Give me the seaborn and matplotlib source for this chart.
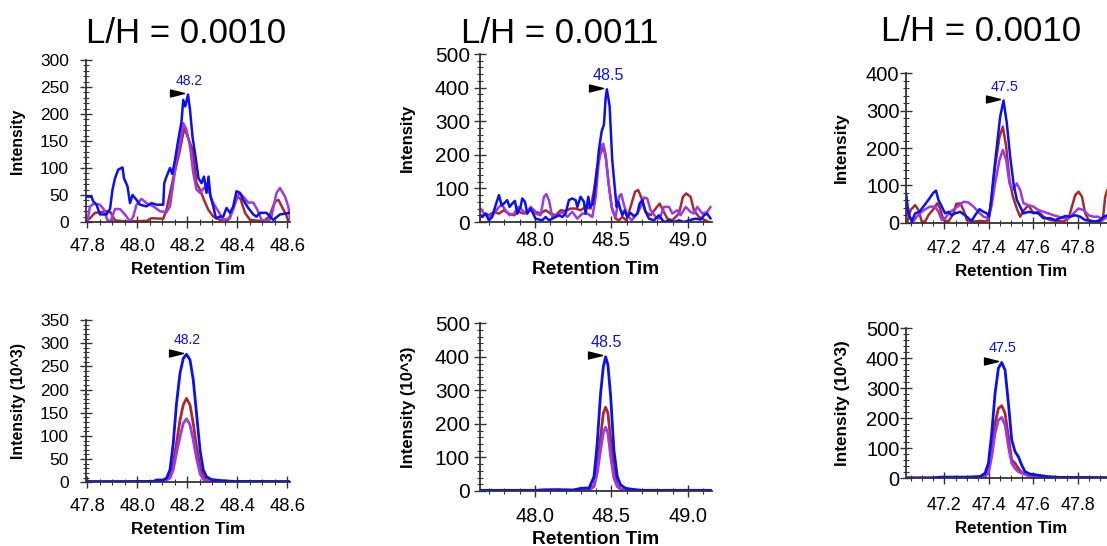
import matplotlib
matplotlib.use("Agg")
import matplotlib.pyplot as plt
import pandas as pd
import seaborn as sns
from matplotlib.path import Path
from matplotlib.transforms import offset_copy
from matplotlib.ticker import MultipleLocator, FormatStrFormatter

sns.set_style("ticks")
plt.rcParams["font.family"] = ["Liberation Sans", "DejaVu Sans"]
plt.rcParams["text.color"] = "black"
plt.rcParams["axes.labelcolor"] = "black"

# ---------------------------------------------------------------------------
# Extracted ion chromatograms: (retention time [min], intensity)
# top row: raw intensity, bottom row: intensity in 10^3
# ---------------------------------------------------------------------------
ratio_titles = ["L/H = 0.0010", "L/H = 0.0011", "L/H = 0.0010"]
trace_order = ["red", "purple", "blue"]

# column 1, top
p1_red = [(47.795, 1), (47.811, 7), (47.831, 17), (47.851, 18), (47.877, 20), (47.893, 18),
          (47.911, 3), (47.957, 1), (48.037, 2), (48.057, 7), (48.104, 6), (48.117, 23),
          (48.144, 81), (48.171, 134), (48.188, 174), (48.204, 155), (48.221, 134),
          (48.237, 72), (48.251, 60), (48.267, 41), (48.284, 23), (48.304, 10), (48.331, 4),
          (48.364, 4), (48.384, 24), (48.400, 47), (48.413, 43), (48.431, 17), (48.451, 4),
          (48.504, 1), (48.528, 10), (48.551, 38), (48.565, 41), (48.581, 26), (48.595, 14),
          (48.605, 1)]
p1_purple = [(47.800, 1), (47.811, 29), (47.827, 34), (47.851, 32), (47.867, 23), (47.880, 4),
             (47.893, 1), (47.911, 24), (47.931, 24), (47.951, 14), (47.971, 1), (47.984, 10),
             (47.997, 32), (48.017, 43), (48.037, 35), (48.064, 29), (48.091, 20), (48.117, 18),
             (48.131, 29), (48.144, 72), (48.157, 115), (48.171, 146), (48.184, 183),
             (48.197, 171), (48.211, 140), (48.224, 91), (48.237, 60), (48.251, 54),
             (48.267, 63), (48.284, 60), (48.304, 35), (48.324, 20), (48.344, 4), (48.371, 7),
             (48.391, 35), (48.408, 54), (48.424, 47), (48.444, 36), (48.464, 36), (48.480, 23),
             (48.497, 4), (48.524, 1), (48.537, 10), (48.557, 54), (48.571, 63), (48.591, 47),
             (48.604, 29), (48.613, 1)]
p1_blue = [(47.795, 47), (47.817, 47), (47.824, 38), (47.837, 32), (47.851, 14), (47.877, 14),
           (47.891, 24), (47.901, 60), (47.911, 81), (47.924, 97), (47.941, 101), (47.947, 81),
           (47.961, 66), (47.971, 35), (47.981, 50), (47.997, 41), (48.011, 32), (48.037, 29),
           (48.057, 35), (48.077, 32), (48.091, 32), (48.104, 32), (48.108, 72), (48.117, 84),
           (48.131, 100), (48.140, 89), (48.151, 115), (48.164, 152), (48.177, 186),
           (48.184, 226), (48.192, 214), (48.203, 236), (48.211, 208), (48.221, 158),
           (48.235, 115), (48.245, 81), (48.257, 72), (48.267, 84), (48.277, 54), (48.285, 84),
           (48.293, 47), (48.304, 29), (48.315, 7), (48.331, 10), (48.344, 10), (48.357, 26),
           (48.371, 17), (48.384, 29), (48.397, 57), (48.411, 54), (48.424, 41), (48.444, 26),
           (48.464, 14), (48.477, 10), (48.491, 17), (48.517, 17), (48.537, 7), (48.544, 4),
           (48.571, 14), (48.611, 17)]

# column 2, top
p2_red = [(47.645, 15), (47.678, 25), (47.699, 20), (47.732, 30), (47.765, 25), (47.797, 35),
          (47.830, 25), (47.863, 20), (47.895, 30), (47.928, 25), (47.961, 35), (47.983, 40),
          (48.004, 30), (48.037, 25), (48.070, 35), (48.102, 25), (48.135, 20), (48.168, 35),
          (48.200, 33), (48.233, 40), (48.266, 40), (48.298, 35), (48.331, 45), (48.364, 40),
          (48.386, 95), (48.407, 165), (48.429, 205), (48.447, 223), (48.462, 195),
          (48.479, 125), (48.501, 45), (48.527, 10), (48.549, 5), (48.571, 15), (48.597, 5),
          (48.625, 45), (48.654, 90), (48.675, 95), (48.697, 70), (48.723, 30), (48.756, 20),
          (48.789, 40), (48.815, 55), (48.837, 35), (48.865, 10), (48.898, 5), (48.941, 25),
          (48.967, 75), (48.989, 85), (49.017, 75), (49.039, 35), (49.072, 15), (49.105, 7),
          (49.137, 0)]
p2_purple = [(47.645, 40), (47.667, 25), (47.699, 15), (47.732, 25), (47.765, 45), (47.786, 50),
             (47.808, 35), (47.834, 20), (47.863, 25), (47.891, 45), (47.917, 35), (47.943, 25),
             (47.972, 45), (48.004, 25), (48.037, 20), (48.059, 75), (48.074, 83), (48.092, 65),
             (48.113, 15), (48.146, 20), (48.179, 30), (48.211, 15), (48.244, 30), (48.277, 10),
             (48.309, 25), (48.342, 25), (48.375, 15), (48.397, 75), (48.414, 165),
             (48.431, 225), (48.447, 233), (48.462, 200), (48.484, 105), (48.505, 35),
             (48.527, 15), (48.549, 75), (48.564, 83), (48.582, 50), (48.603, 20), (48.632, 5),
             (48.669, 25), (48.691, 45), (48.712, 73), (48.734, 70), (48.756, 35), (48.789, 15),
             (48.815, 10), (48.843, 45), (48.876, 45), (48.898, 25), (48.930, 35), (48.952, 20),
             (48.985, 45), (49.017, 30), (49.039, 25), (49.061, 45), (49.094, 25), (49.126, 30),
             (49.148, 45)]
p2_blue = [(47.645, 20), (47.656, 15), (47.678, 25), (47.699, 5), (47.721, 15), (47.743, 50),
           (47.765, 80), (47.782, 50), (47.797, 55), (47.819, 65), (47.834, 45), (47.852, 55),
           (47.869, 63), (47.885, 25), (47.906, 45), (47.917, 70), (47.935, 60), (47.950, 25),
           (47.972, 40), (48.004, 10), (48.048, 5), (48.070, 15), (48.092, 5), (48.135, 15),
           (48.157, 20), (48.179, 15), (48.200, 25), (48.222, 65), (48.244, 70), (48.266, 65),
           (48.277, 45), (48.298, 75), (48.320, 60), (48.331, 25), (48.349, 75), (48.359, 45),
           (48.379, 55), (48.397, 115), (48.418, 215), (48.436, 270), (48.451, 290),
           (48.462, 370), (48.470, 395), (48.488, 345), (48.505, 185), (48.521, 105),
           (48.534, 45), (48.545, 60), (48.560, 35), (48.571, 20), (48.586, 35), (48.603, 15),
           (48.625, 27), (48.647, 17), (48.669, 25), (48.684, 55), (48.702, 65), (48.719, 35),
           (48.745, 10), (48.778, 5), (48.810, 20), (48.843, 0), (48.876, 5), (48.908, 0),
           (48.941, 5), (48.974, 0), (49.007, 5), (49.050, 10), (49.083, 7), (49.105, 20),
           (49.126, 25), (49.148, 10)]

# column 3, top
p3_red = [(47.033, 3), (47.048, 34), (47.068, 47), (47.083, 34), (47.098, 3), (47.113, 3),
          (47.128, 20), (47.150, 36), (47.168, 52), (47.180, 38), (47.196, 7), (47.218, 3),
          (47.241, 25), (47.253, 50), (47.271, 52), (47.286, 34), (47.301, 7), (47.331, 3),
          (47.361, 5), (47.383, 3), (47.398, 7), (47.413, 70), (47.428, 150), (47.448, 230),
          (47.463, 257), (47.478, 204), (47.493, 114), (47.508, 70), (47.526, 38),
          (47.541, 16), (47.559, 34), (47.578, 47), (47.601, 25), (47.623, 29), (47.646, 16),
          (47.676, 7), (47.706, 5), (47.736, 3), (47.759, 12), (47.774, 43), (47.789, 74),
          (47.804, 83), (47.819, 70), (47.834, 25), (47.849, 7), (47.871, 3), (47.894, 3),
          (47.913, 7), (47.924, 70), (47.934, 88)]
p3_purple = [(47.027, 25), (47.042, 16), (47.060, 3), (47.075, 16), (47.090, 25), (47.113, 36),
             (47.135, 43), (47.158, 43), (47.173, 29), (47.188, 7), (47.203, 12), (47.226, 29),
             (47.248, 38), (47.268, 47), (47.286, 56), (47.308, 54), (47.331, 43), (47.353, 29),
             (47.376, 16), (47.398, 12), (47.413, 47), (47.428, 105), (47.448, 168),
             (47.463, 195), (47.478, 168), (47.493, 105), (47.508, 88), (47.526, 105),
             (47.541, 88), (47.556, 52), (47.578, 47), (47.601, 43), (47.623, 34), (47.646, 29),
             (47.668, 25), (47.691, 20), (47.714, 16), (47.736, 12), (47.759, 12), (47.781, 25),
             (47.804, 38), (47.826, 34), (47.849, 20), (47.871, 16), (47.894, 16), (47.913, 7),
             (47.934, 16)]
p3_blue = [(47.027, 80), (47.038, 25), (47.053, 3), (47.068, 25), (47.087, 29), (47.105, 43),
           (47.128, 61), (47.150, 80), (47.162, 86), (47.173, 61), (47.188, 43), (47.203, 25),
           (47.218, 29), (47.233, 20), (47.248, 25), (47.271, 29), (47.293, 20), (47.308, 12),
           (47.323, 5), (47.338, 20), (47.358, 36), (47.376, 29), (47.391, 25), (47.401, 16),
           (47.409, 52), (47.421, 123), (47.436, 204), (47.451, 284), (47.466, 327),
           (47.481, 266), (47.496, 177), (47.511, 105), (47.526, 61), (47.541, 43),
           (47.556, 25), (47.578, 29), (47.601, 27), (47.623, 25), (47.646, 12), (47.676, 12),
           (47.698, 7), (47.721, 12), (47.744, 18), (47.766, 16), (47.789, 20), (47.811, 16),
           (47.834, 7), (47.856, 5), (47.879, 3), (47.901, 7), (47.916, 16), (47.934, 20)]

# column 1, bottom (10^3)
p4_red = [(47.795, 1), (48.100, 1), (48.131, 12), (48.144, 41), (48.157, 84), (48.171, 134),
          (48.184, 167), (48.197, 181), (48.211, 167), (48.224, 127), (48.237, 77),
          (48.251, 34), (48.264, 12), (48.277, 5), (48.300, 1), (48.614, 1)]
p4_purple = [(47.795, 1), (48.100, 1), (48.131, 9), (48.144, 27), (48.157, 63), (48.171, 98),
             (48.184, 127), (48.197, 137), (48.211, 124), (48.224, 91), (48.237, 52),
             (48.251, 19), (48.264, 6), (48.277, 4), (48.300, 1), (48.614, 1)]
p4_blue = [(47.795, 1.5), (47.950, 1.5), (48.064, 2), (48.077, 5), (48.104, 5), (48.117, 9),
           (48.131, 27), (48.144, 84), (48.157, 170), (48.171, 235), (48.184, 267),
           (48.197, 276), (48.211, 264), (48.224, 221), (48.237, 149), (48.251, 70),
           (48.264, 27), (48.277, 12), (48.297, 6), (48.331, 4), (48.384, 2), (48.614, 1.5)]

# column 2, bottom (10^3)
p5_red = [(47.641, 1), (48.350, 2), (48.386, 18), (48.407, 73), (48.429, 162), (48.447, 232),
          (48.462, 250), (48.477, 232), (48.495, 152), (48.516, 63), (48.538, 18),
          (48.560, 6), (48.600, 2), (49.150, 1)]
p5_purple = [(47.641, 1), (48.000, 1), (48.050, 4), (48.150, 5), (48.250, 2), (48.350, 2),
             (48.386, 13), (48.407, 53), (48.429, 122), (48.447, 174), (48.462, 190),
             (48.477, 172), (48.495, 102), (48.516, 38), (48.538, 13), (48.560, 5),
             (48.600, 2), (49.150, 1)]
p5_blue = [(47.641, 2), (48.000, 2), (48.250, 3), (48.300, 8), (48.330, 9), (48.353, 8),
           (48.386, 43), (48.407, 142), (48.429, 291), (48.447, 371), (48.462, 400),
           (48.477, 376), (48.495, 281), (48.516, 122), (48.538, 43), (48.560, 18),
           (48.593, 8), (48.636, 5), (48.702, 2), (49.150, 2)]

# column 3, bottom (10^3)
p6_red = [(47.027, 1), (47.360, 1), (47.383, 6), (47.398, 22), (47.413, 94), (47.428, 183),
          (47.443, 233), (47.458, 242), (47.473, 217), (47.488, 139), (47.503, 61),
          (47.518, 50), (47.533, 33), (47.548, 20), (47.571, 11), (47.601, 6), (47.661, 3),
          (47.934, 1)]
p6_purple = [(47.027, 1), (47.370, 1), (47.398, 17), (47.413, 72), (47.428, 150),
             (47.443, 194), (47.458, 203), (47.473, 178), (47.488, 106), (47.503, 50),
             (47.518, 33), (47.533, 22), (47.548, 17), (47.571, 11), (47.601, 6), (47.661, 3),
             (47.934, 1)]
p6_blue = [(47.027, 1), (47.150, 1), (47.180, 4), (47.300, 4), (47.361, 6), (47.383, 17),
           (47.398, 50), (47.413, 150), (47.428, 283), (47.443, 367), (47.458, 386),
           (47.473, 361), (47.488, 250), (47.503, 128), (47.518, 89), (47.533, 72),
           (47.548, 44), (47.563, 22), (47.586, 14), (47.616, 11), (47.661, 6), (47.721, 3),
           (47.934, 2)]

# ---------------------------------------------------------------------------
palette = {"red": "#A82A2C", "purple": "#9B3AE6", "blue": "#0A10F0"}
W, H = 1107, 546

# per-column text sizes and axis label offsets
col_style = [
    dict(ytick_fs=12.5, xtick_fs=13.3, ylab_fs=11.4, xlab_fs=12.3, peak_fs=10.0,
         ypad=8.0, title_x=186, title_base=43),
    dict(ytick_fs=15.0, xtick_fs=14.4, ylab_fs=12.0, xlab_fs=13.8, peak_fs=11.5,
         ypad=3.0, title_x=560, title_base=43),
    dict(ytick_fs=14.5, xtick_fs=13.0, ylab_fs=12.3, xlab_fs=12.2, peak_fs=10.4,
         ypad=0.5, title_x=981, title_base=41),
]

# panel frames in pixels: left, top, right, bottom
panels = [
    dict(traces=(p1_red, p1_purple, p1_blue), box=(86, 60, 290, 222), col=0,
         xlim=(47.795, 48.611), ylim=(0, 300), xmaj=0.2, xmin=0.05, ymaj=50, ymin=10,
         ylabel="Intensity", ylab_dx=68, xlab_dy=47, xpad=7.0, lw=1.8),
    dict(traces=(p2_red, p2_purple, p2_blue), box=(480, 54, 712, 222), col=1,
         xlim=(47.641, 49.157), ylim=(0, 500), xmaj=0.5, xmin=0.1, ymaj=100, ymin=20,
         ylabel="Intensity", ylab_dx=73, xlab_dy=48, xpad=2.5, lw=1.8),
    dict(traces=(p3_red, p3_purple, p3_blue), box=(906, 73.3, 1117, 222.7), col=2,
         xlim=(47.027, 47.977), ylim=(0, 400), xmaj=0.2, xmin=0.05, ymaj=100, ymin=20,
         ylabel="Intensity", ylab_dx=65, xlab_dy=49, xpad=8.4, lw=1.8),
    dict(traces=(p4_red, p4_purple, p4_blue), box=(86, 320, 290, 482.3), col=0,
         xlim=(47.795, 48.611), ylim=(0, 350), xmaj=0.2, xmin=0.05, ymaj=50, ymin=10,
         ylabel="Intensity (10^3)", ylab_dx=67, xlab_dy=47, xpad=7.0, lw=2.0),
    dict(traces=(p5_red, p5_purple, p5_blue), box=(480, 323.3, 712, 491), col=1,
         xlim=(47.641, 49.157), ylim=(0, 500), xmaj=0.5, xmin=0.1, ymaj=100, ymin=20,
         ylabel="Intensity (10^3)", ylab_dx=72, xlab_dy=48, xpad=7.5, lw=2.0),
    dict(traces=(p6_red, p6_purple, p6_blue), box=(906, 328.3, 1117, 478.3), col=2,
         xlim=(47.027, 47.977), ylim=(0, 500), xmaj=0.2, xmin=0.05, ymaj=100, ymin=20,
         ylabel="Intensity (10^3)", ylab_dx=64, xlab_dy=50, xpad=9.5, lw=2.0),
]

tri_path = Path([(-1.0, 0.5), (1.0, 0.0), (-1.0, -0.5), (-1.0, 0.5)],
                [Path.MOVETO, Path.LINETO, Path.LINETO, Path.CLOSEPOLY])
axis_grey = "#333333"

fig = plt.figure(figsize=(W / 100, H / 100), dpi=100)

for spec in panels:
    l, t, r, b = spec["box"]
    st = col_style[spec["col"]]
    ax = fig.add_axes([l / W, (H - b) / H, (r - l) / W, (b - t) / H])

    frames = [pd.DataFrame(pts, columns=["rt", "intensity"]).assign(trace=name)
              for name, pts in zip(trace_order, spec["traces"])]
    df = pd.concat(frames, ignore_index=True)
    sns.lineplot(data=df, x="rt", y="intensity", hue="trace", hue_order=trace_order,
                 palette=palette, estimator=None, linewidth=spec["lw"], legend=False, ax=ax)

    ax.set_xlim(*spec["xlim"])
    ax.set_ylim(*spec["ylim"])
    ax.xaxis.set_major_locator(MultipleLocator(spec["xmaj"]))
    ax.xaxis.set_minor_locator(MultipleLocator(spec["xmin"]))
    ax.yaxis.set_major_locator(MultipleLocator(spec["ymaj"]))
    ax.yaxis.set_minor_locator(MultipleLocator(spec["ymin"]))
    ax.xaxis.set_major_formatter(FormatStrFormatter("%.1f"))
    ax.yaxis.set_major_formatter(FormatStrFormatter("%d"))

    for side in ("top", "right"):
        ax.spines[side].set_visible(False)
    for side in ("left", "bottom"):
        ax.spines[side].set_color(axis_grey)
        ax.spines[side].set_linewidth(1.3)

    ax.tick_params(which="major", direction="inout", length=8.5, width=1.0,
                   color=axis_grey, labelcolor="black")
    ax.tick_params(which="minor", direction="inout", length=5.0, width=0.8, color=axis_grey)
    ax.tick_params(axis="y", which="major", labelsize=st["ytick_fs"], pad=st["ypad"])
    ax.tick_params(axis="x", which="major", labelsize=st["xtick_fs"], pad=spec["xpad"])

    width_px, height_px = r - l, b - t
    ax.set_ylabel(spec["ylabel"], fontsize=st["ylab_fs"], fontweight="bold")
    ax.yaxis.label.set_va("center")
    ax.yaxis.set_label_coords(-spec["ylab_dx"] / width_px, 0.5)
    ax.set_xlabel("Retention Tim", fontsize=st["xlab_fs"], fontweight="bold")
    ax.xaxis.label.set_va("center")
    ax.xaxis.set_label_coords(0.5, -spec["xlab_dy"] / height_px)

    # apex marker and retention-time label on the blue trace
    blue = frames[2]
    apex = blue.loc[blue["intensity"].idxmax()]
    tri_tf = offset_copy(ax.transData, fig=fig, x=-11, y=1.5, units="dots")
    ax.plot([apex["rt"]], [apex["intensity"]], marker=tri_path, markersize=10,
            color="black", linestyle="none", transform=tri_tf, clip_on=False)
    ax.annotate(f"{apex['rt']:.1f}", xy=(apex["rt"], apex["intensity"]),
                xytext=(1, 14), textcoords="offset pixels", ha="center", va="center",
                color=palette["blue"], fontsize=st["peak_fs"])

for title, st in zip(ratio_titles, col_style):
    fig.text(st["title_x"] / W, (H - st["title_base"]) / H, title,
             ha="center", va="baseline", fontsize=25, color="black")

fig.savefig("out.png", dpi=100, facecolor="white")
